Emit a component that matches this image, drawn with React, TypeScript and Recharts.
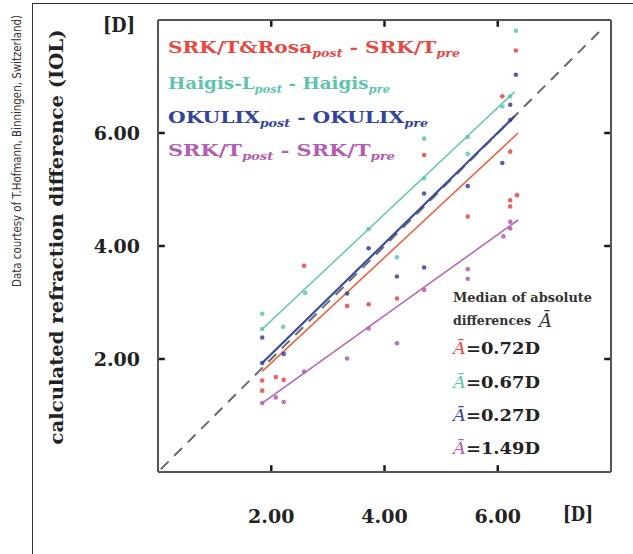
import React from 'react';
import { ScatterChart, Scatter, XAxis, YAxis, ReferenceLine } from 'recharts';

type Pt = { x: number; y: number };

// axis ticks (both axes, dioptres)
const axisTicks = [2, 4, 6];
const axisDomain: [number, number] = [0, 8];

// SRK/T&Rosa post - SRK/T pre
const rosaPoints: Pt[] = [
  { x: 1.84, y: 1.62 }, { x: 1.84, y: 1.44 }, { x: 2.08, y: 1.68 }, { x: 2.22, y: 1.63 },
  { x: 2.58, y: 3.65 }, { x: 3.34, y: 2.94 }, { x: 3.72, y: 2.97 }, { x: 4.22, y: 3.07 },
  { x: 4.7, y: 5.61 }, { x: 5.47, y: 4.52 }, { x: 6.08, y: 6.65 }, { x: 6.22, y: 5.67 },
  { x: 6.34, y: 4.9 }, { x: 6.22, y: 4.81 }, { x: 6.22, y: 4.7 }, { x: 6.32, y: 7.46 },
];
// Haigis-L post - Haigis pre
const haigisPoints: Pt[] = [
  { x: 1.84, y: 2.8 }, { x: 1.84, y: 2.53 }, { x: 2.21, y: 2.57 }, { x: 2.6, y: 3.17 },
  { x: 3.72, y: 4.3 }, { x: 4.22, y: 3.8 }, { x: 4.7, y: 5.9 }, { x: 4.7, y: 5.2 },
  { x: 5.47, y: 5.93 }, { x: 5.47, y: 5.63 }, { x: 6.08, y: 6.47 }, { x: 6.22, y: 6.65 },
  { x: 6.32, y: 7.81 },
];
// OKULIX post - OKULIX pre
const okulixPoints: Pt[] = [
  { x: 1.84, y: 2.38 }, { x: 1.84, y: 1.93 }, { x: 2.22, y: 2.09 }, { x: 3.34, y: 3.16 },
  { x: 3.72, y: 3.96 }, { x: 4.22, y: 3.46 }, { x: 4.7, y: 4.93 }, { x: 4.7, y: 3.62 },
  { x: 5.47, y: 5.06 }, { x: 6.08, y: 5.47 }, { x: 6.22, y: 6.5 }, { x: 6.22, y: 6.23 },
  { x: 6.32, y: 7.03 },
];
// SRK/T post - SRK/T pre
const srktPoints: Pt[] = [
  { x: 1.84, y: 1.22 }, { x: 2.08, y: 1.32 }, { x: 2.22, y: 1.24 }, { x: 2.58, y: 1.78 },
  { x: 3.34, y: 2.01 }, { x: 3.72, y: 2.54 }, { x: 4.22, y: 2.28 }, { x: 4.7, y: 3.22 },
  { x: 5.47, y: 3.59 }, { x: 5.47, y: 3.42 }, { x: 6.1, y: 4.17 }, { x: 6.22, y: 4.31 },
  { x: 6.22, y: 4.43 },
];

// regression lines (end points)
const rosaFit: Pt[] = [{ x: 1.84, y: 1.78 }, { x: 6.36, y: 6.0 }];
const haigisFit: Pt[] = [{ x: 1.84, y: 2.53 }, { x: 6.3, y: 6.73 }];
const okulixFit: Pt[] = [{ x: 1.84, y: 1.93 }, { x: 6.3, y: 6.3 }];
const srktFit: Pt[] = [{ x: 1.84, y: 1.22 }, { x: 6.36, y: 4.46 }];
const identityLine: Pt[] = [{ x: 0.05, y: 0.05 }, { x: 7.85, y: 7.85 }];

const medianValues = ['0.72D', '0.67D', '0.27D', '1.49D'];

const series = [
  { name: 'rosa', color: '#e8483f', line: '#ee6442', main: 'SRK/T&Rosa', sub: 'post', main2: ' - SRK/T', sub2: 'pre', len: 292, points: rosaPoints, fit: rosaFit },
  { name: 'haigis', color: '#5ec5ad', line: '#6ccab3', main: 'Haigis-L', sub: 'post', main2: ' - Haigis', sub2: 'pre', len: 222, points: haigisPoints, fit: haigisFit },
  { name: 'okulix', color: '#34449a', line: '#3a4ca2', main: 'OKULIX', sub: 'post', main2: ' - OKULIX', sub2: 'pre', len: 260, points: okulixPoints, fit: okulixFit },
  { name: 'srkt', color: '#b25cb2', line: '#b868b8', main: 'SRK/T', sub: 'post', main2: ' - SRK/T', sub2: 'pre', len: 227, points: srktPoints, fit: srktFit },
];

const serif = "'DejaVu Serif', serif";
const TICK_LEN = 0.12; // inward tick length, in axis units
const [lo, hi] = axisDomain;

// inward tick marks on all four sides of the frame
const tickMarks: Pt[][] = axisTicks.flatMap((t) => [
  [{ x: t, y: lo }, { x: t, y: lo + TICK_LEN }],
  [{ x: t, y: hi }, { x: t, y: hi - TICK_LEN }],
  [{ x: lo, y: t }, { x: lo + TICK_LEN, y: t }],
  [{ x: hi, y: t }, { x: hi - TICK_LEN, y: t }],
]);

const labelProps = { fill: '#222', fontSize: 19, fontWeight: 700, fontFamily: serif };

const BottomTick = (p: any) => (
  <text x={p.x} y={p.y} textAnchor="middle" {...labelProps}>{p.payload.value.toFixed(2)}</text>
);
const LeftTick = (p: any) => (
  <text x={p.x} y={p.y + 7} textAnchor="end" {...labelProps}>{p.payload.value.toFixed(2)}</text>
);

const dot = (color: string) => (props: any) => (
  <circle cx={props.cx} cy={props.cy} r={2.3} fill={color} fillOpacity={0.85} />
);

export default function App() {
  const axisLine = { stroke: '#555', strokeWidth: 2 };
  return (
    <div style={{ position: 'absolute', left: 0, top: 0, width: 633, height: 554, background: '#fff', overflow: 'hidden' }}>
      <div style={{ position: 'absolute', left: 32, top: 3, width: 610, height: 560, borderLeft: '1.5px solid #333', borderTop: '1.5px solid #333' }} />
      <div style={{ position: 'absolute', left: 0, top: 0 }}>
        <ScatterChart width={633} height={554} margin={{ top: 18, right: 20, bottom: 32, left: 98 }}>
          <XAxis type="number" dataKey="x" domain={axisDomain} ticks={axisTicks} height={50}
            axisLine={axisLine} tickLine={false} tickSize={0} tickMargin={51} tick={<BottomTick />} />
          <XAxis xAxisId="t" orientation="top" type="number" dataKey="x" domain={axisDomain} ticks={axisTicks}
            height={2} axisLine={axisLine} tickLine={false} tick={false} />
          <YAxis type="number" dataKey="y" domain={axisDomain} ticks={axisTicks} width={60}
            axisLine={axisLine} tickLine={false} tickSize={0} tickMargin={18} tick={<LeftTick />} />
          <YAxis yAxisId="r" orientation="right" type="number" dataKey="y" domain={axisDomain} ticks={axisTicks}
            width={2} axisLine={axisLine} tickLine={false} tick={false} />
          {tickMarks.map((seg, i) => (
            <ReferenceLine key={'tick-' + i} segment={seg} stroke="#1a1a1a" strokeWidth={2.5} ifOverflow="visible" />
          ))}
          <ReferenceLine segment={identityLine} stroke="#6a6a6a" strokeWidth={2} strokeDasharray="11 8" />
          {series.map((s) => (
            <ReferenceLine key={s.name + '-fit'} segment={s.fit} stroke={s.line} strokeWidth={s.name === 'okulix' ? 2.2 : 1.6} />
          ))}
          {series.map((s) => (
            <Scatter key={s.name} data={s.points} dataKey="y" shape={dot(s.color)} isAnimationActive={false} />
          ))}
        </ScatterChart>
      </div>
      <svg width={633} height={554} style={{ position: 'absolute', left: 0, top: 0, pointerEvents: 'none' }}>
        <text transform="translate(21,151) rotate(-90)" textAnchor="middle" fontFamily="'Liberation Sans Narrow', 'DejaVu Sans Condensed', sans-serif"
          fontSize={12} fill="#333" textLength={272} lengthAdjust="spacingAndGlyphs">
          Data courtesy of T.Hofmann, Binningen, Switzerland)
        </text>
        <text transform="translate(63,237) rotate(-90)" textAnchor="middle" fontFamily={serif} fontWeight={700}
          fontSize={18} fill="#222" textLength={415} lengthAdjust="spacingAndGlyphs">
          calculated refraction difference (IOL)
        </text>
        <text x={103} y={32} fontFamily={serif} fontWeight={700} fontSize={20} fill="#222" textLength={32} lengthAdjust="spacingAndGlyphs">[D]</text>
        <text x={563} y={521} fontFamily={serif} fontWeight={700} fontSize={20} fill="#222" textLength={30} lengthAdjust="spacingAndGlyphs">[D]</text>
        {series.map((s, i) => (
          <text key={s.name + '-leg'} x={168} y={53 + [0, 36, 70, 103][i]} fill={s.color} fontFamily={serif} fontWeight={700}
            fontSize={17.5} textLength={s.len} lengthAdjust="spacingAndGlyphs">
            {s.main}
            <tspan fontSize={11} fontStyle="italic" dy={4}>{s.sub}</tspan>
            <tspan dy={-4}>{s.main2}</tspan>
            <tspan fontSize={11} fontStyle="italic" dy={4}>{s.sub2}</tspan>
          </text>
        ))}
        <text x={453} y={302} fontFamily={serif} fontWeight={700} fontSize={12} fill="#333" textLength={139} lengthAdjust="spacingAndGlyphs">Median of absolute</text>
        <text x={453} y={325} fontFamily={serif} fontWeight={700} fontSize={12} fill="#333" textLength={78} lengthAdjust="spacingAndGlyphs">differences</text>
        <text x={539} y={327} fontFamily={serif} fontStyle="italic" fontSize={18} fill="#333">Ā</text>
        {series.map((s, i) => (
          <text key={s.name + '-med'} x={453} y={354 + [0, 34, 67, 100][i]} fontFamily={serif} fontWeight={700}
            fontSize={17.5} fill="#222" textLength={87} lengthAdjust="spacingAndGlyphs">
            <tspan fill={s.color} fontStyle="italic" fontWeight={400}>Ā</tspan>={medianValues[i]}
          </text>
        ))}
      </svg>
    </div>
  );
}
